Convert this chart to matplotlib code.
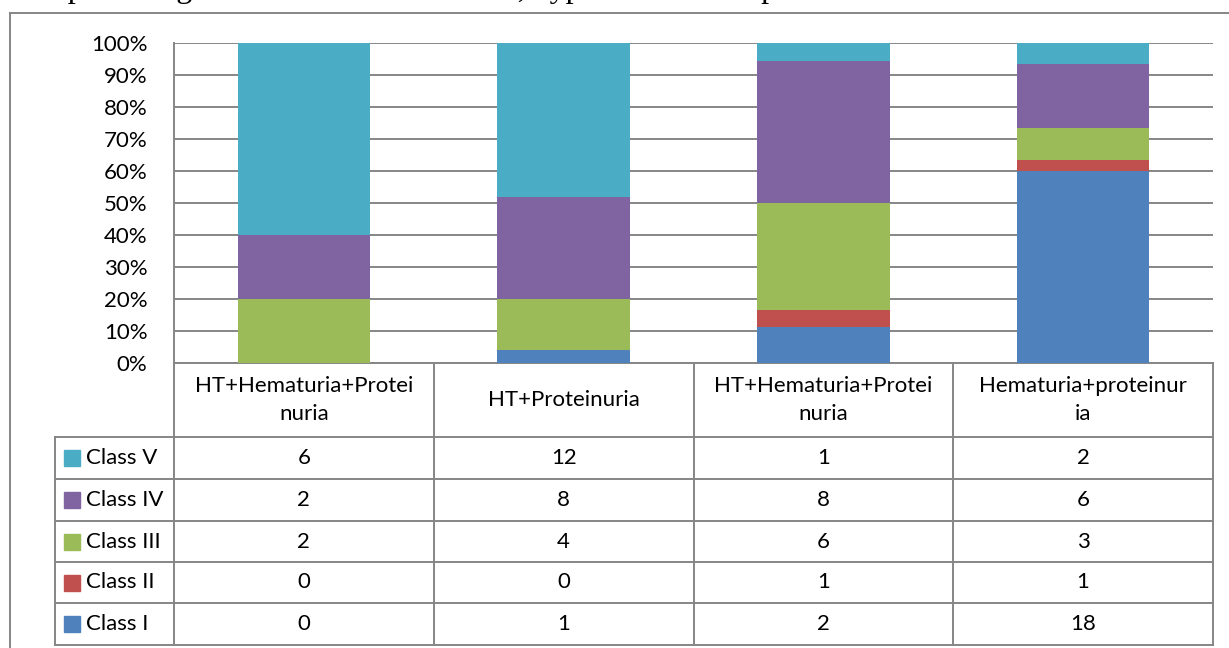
import numpy as np
import matplotlib
matplotlib.use("Agg")
import matplotlib.pyplot as plt

# groups on the x axis (header of the data table)
groups = ["HT+Hematuria+Protei\nnuria", "HT+Proteinuria",
          "HT+Hematuria+Protei\nnuria", "Hematuria+proteinur\nia"]

# number of cases per class in each group
class_names = ["Class I", "Class II", "Class III", "Class IV", "Class V"]
class_1 = [0, 1, 2, 18]
class_2 = [0, 0, 1, 1]
class_3 = [2, 4, 6, 3]
class_4 = [2, 8, 8, 6]
class_5 = [6, 12, 1, 2]
colors = ["#4F81BD", "#C0504D", "#9BBB59", "#8064A2", "#4BACC6"]

title = "The percentage of cases with hematuria, hypertension and proteinuria in each class"

W, H = 1229, 648
font = "Lato"
grey = "#868686"
fs = 16

counts = np.array([class_1, class_2, class_3, class_4, class_5], dtype=float)
share = counts / counts.sum(axis=0)

fig = plt.figure(figsize=(W / 100, H / 100), dpi=100)

def box(x0, y0, x1, y1):
    # pixel box -> figure fraction rect
    return [x0 / W, 1 - y1 / H, (x1 - x0) / W, (y1 - y0) / H]

# bar chart
ax = fig.add_axes(box(174, 43, 1213, 363))
x = np.arange(len(groups))
bottom = np.zeros(len(groups))
for i in range(len(class_names)):
    ax.bar(x, share[i], 0.51, bottom=bottom, color=colors[i], zorder=3)
    bottom += share[i]

ax.set_xlim(-0.5, len(groups) - 0.5)
ax.set_ylim(0, 1)
ax.set_yticks(np.arange(0, 1.01, 0.1))
ax.set_yticklabels([f"{int(round(v * 100))}%" for v in np.arange(0, 1.01, 0.1)],
                   fontsize=fs, family=font)
ax.set_xticks([])
ax.tick_params(axis="y", length=0, pad=19)
ax.grid(axis="y", color=grey, lw=1.4, zorder=0)
for s in ["top", "right"]:
    ax.spines[s].set_visible(False)
for s in ["left", "bottom"]:
    ax.spines[s].set_color(grey)
    ax.spines[s].set_linewidth(1.4)

# overlay in pixel coordinates for the data table and the frame
ov = fig.add_axes([0, 0, 1, 1], facecolor="none")
ov.set_xlim(0, W)
ov.set_ylim(H, 0)
ov.axis("off")

col_x = np.linspace(174, 1213, len(groups) + 1)
row_y = [437, 479, 521, 562, 603, 645]
lw = 1.4

# frame of the chart
ov.plot([10, W], [13, 13], color=grey, lw=lw)
ov.plot([10, 10], [13, H], color=grey, lw=lw)

# table grid
for cx in col_x:
    ov.plot([cx, cx], [363, row_y[-1]], color=grey, lw=lw)
ov.plot([55, 55], [row_y[0], row_y[-1]], color=grey, lw=lw)
for ry in row_y:
    ov.plot([55, col_x[-1]], [ry, ry], color=grey, lw=lw)

# header row
for j, g in enumerate(groups):
    ov.text((col_x[j] + col_x[j + 1]) / 2, (363 + row_y[0]) / 2, g,
            ha="center", va="center", fontsize=fs, family=font,
            linespacing=1.5)

# data rows, Class V on top
for r in range(len(class_names)):
    i = len(class_names) - 1 - r
    y0, y1 = row_y[r], row_y[r + 1]
    yc = (y0 + y1) / 2
    ov.add_patch(plt.Rectangle((64, yc - 8), 16, 16, color=colors[i]))
    ov.text(86, yc, class_names[i], ha="left", va="center",
            fontsize=fs, family=font)
    for j in range(len(groups)):
        ov.text((col_x[j] + col_x[j + 1]) / 2, yc, str(int(counts[i, j])),
                ha="center", va="center", fontsize=fs, family=font)

# title, clipped at the top of the picture
ov.text(10, -3, title, ha="left", va="baseline", fontsize=23,
        family="Liberation Serif", clip_on=False)

fig.savefig("out.png", dpi=100)
